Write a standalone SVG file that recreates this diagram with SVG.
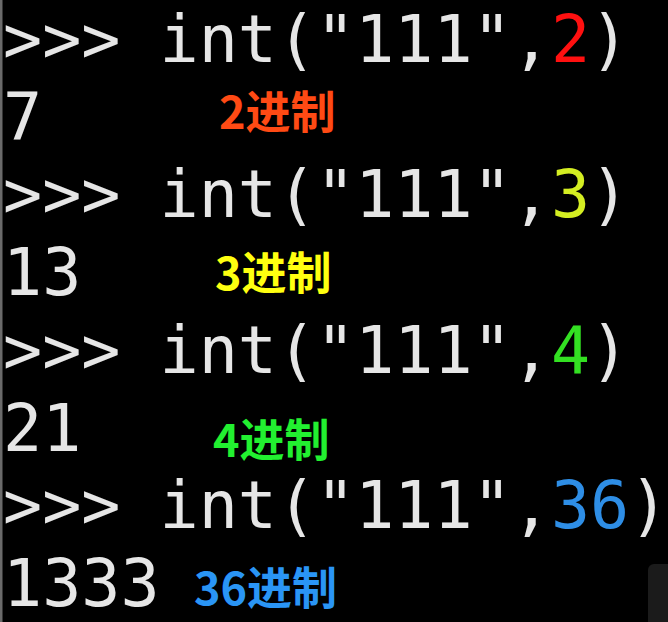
<svg xmlns="http://www.w3.org/2000/svg" width="668" height="622" viewBox="0 0 668 622">
<style>
.t{font-family:"DejaVu Sans Mono","Liberation Mono",monospace;font-size:65px;fill:#e6e6e6}
.l{font-family:"Noto Sans CJK SC","Noto Sans",sans-serif;font-size:45px;font-weight:bold}
</style>
<rect x="0" y="0" width="668" height="622" fill="#000"/>
<rect x="0" y="0" width="2.5" height="622" fill="#6a6a6a"/>
<rect x="648" y="564" width="30" height="70" rx="6" fill="#1b1b1b"/>
<g id="terminal">
<text class="t" x="3" y="62" xml:space="preserve">&gt;&gt;&gt; int("111",<tspan fill="#ff1010">2</tspan>)</text>
<text class="t" x="3" y="139.7">7</text>
<text class="t" x="3" y="217.4" xml:space="preserve">&gt;&gt;&gt; int("111",<tspan fill="#d4ee22">3</tspan>)</text>
<text class="t" x="3" y="295.1">13</text>
<text class="t" x="3" y="372.8" xml:space="preserve">&gt;&gt;&gt; int("111",<tspan fill="#33e022">4</tspan>)</text>
<text class="t" x="3" y="450.5">21</text>
<text class="t" x="3" y="528.2" xml:space="preserve">&gt;&gt;&gt; int("111",<tspan fill="#2e8ee6">36</tspan>)</text>
<text class="t" x="3" y="605.9">1333</text>
</g>
<g id="labels">
<text class="l" x="219" y="129" fill="#ff4a14">2进制</text>
<text class="l" x="215" y="290" fill="#ffff10">3进制</text>
<text class="l" x="213" y="457" fill="#22f030">4进制</text>
<text class="l" x="194" y="605" fill="#2a95f5">36进制</text>
</g>
</svg>
